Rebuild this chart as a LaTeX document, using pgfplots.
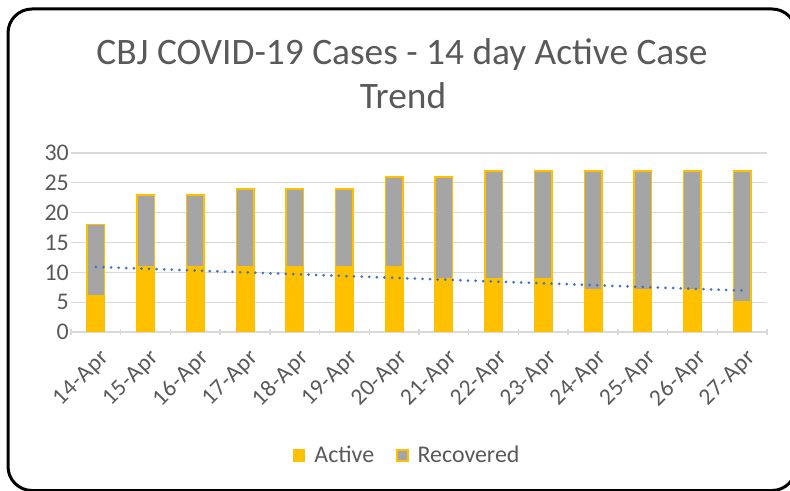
\documentclass[border=0pt]{standalone}
\usepackage{pgfplots}
\pgfplotsset{compat=1.18}
\usepackage{fontspec}
\setmainfont{Carlito}
\definecolor{act}{HTML}{FFC000}
\definecolor{rec}{HTML}{A5A5A5}
\definecolor{grd}{HTML}{D9D9D9}
\definecolor{txt}{HTML}{595959}
\definecolor{trend}{HTML}{4472C4}
\begin{document}
\begin{tikzpicture}
\useasboundingbox (0,0) rectangle (790bp,491bp);
\begin{scope}
\clip (0,0) rectangle (790bp,491bp);
\draw[line width=3bp, rounded corners=24bp] (8bp,0.5bp) rectangle (796bp,482bp);
\end{scope}
\node[anchor=base, text=txt, font=\fontsize{37.5}{44}\selectfont] at (402bp,426bp) {CBJ COVID-19 Cases - 14 day Active Case};
\node[anchor=base, text=txt, font=\fontsize{37.5}{44}\selectfont] at (403bp,382bp) {Trend};
\begin{axis}[
  at={(71bp,159bp)}, anchor=south west,
  scale only axis, width=696bp, height=179bp,
  xmin=-0.5, xmax=13.5, ymin=0, ymax=30,
  ybar stacked, bar width=17.5bp,
  xtick={0,...,13},
  xticklabels={14-Apr,15-Apr,16-Apr,17-Apr,18-Apr,19-Apr,20-Apr,21-Apr,22-Apr,23-Apr,24-Apr,25-Apr,26-Apr,27-Apr},
  minor xtick={-0.5,0.5,...,13.5},
  ytick={0,5,...,30},
  major tick length=0pt, minor tick length=6bp, tick align=outside,
  minor tick style={grd, line width=1.3bp},
  ymajorgrids, grid style={grd, line width=1.3bp},
  axis lines=left, axis line style={-},
  y axis line style={draw=none},
  x axis line style={grd, line width=1.3bp},
  /pgf/number format/assume math mode=true,
  xticklabel style={yshift=-14bp, xshift=3bp, rotate=45, anchor=north east, font=\fontsize{23.5}{28}\selectfont\addfontfeature{LetterSpace=3}, text=txt, inner sep=1bp},
  yticklabel style={font=\fontsize{24}{28}\selectfont, text=txt, inner sep=2bp},
  legend style={at={(0.483,-0.687)}, anchor=center, draw=none, legend columns=2,
    /tikz/every odd column/.append style={column sep=7bp},
    /tikz/every even column/.append style={column sep=20bp},
    font=\fontsize{24}{28}\selectfont, text=txt},
  legend image code/.code={\draw[#1, line width=1.5bp] (0bp,-6bp) rectangle (11bp,5bp);},
]
\addplot[fill=act, draw=act, line width=1.5bp] coordinates {
 (0,6) (1,11) (2,11) (3,11) (4,11) (5,11) (6,11) (7,9) (8,9) (9,9) (10,7) (11,7) (12,7) (13,5)};
\addlegendentry{Active}
\addplot[fill=rec, draw=act, line width=1.5bp] coordinates {
 (0,12) (1,12) (2,12) (3,13) (4,13) (5,13) (6,15) (7,17) (8,18) (9,18) (10,20) (11,20) (12,20) (13,22)};
\addlegendentry{Recovered}
\end{axis}
\begin{axis}[
  at={(71bp,159bp)}, anchor=south west,
  scale only axis, width=696bp, height=179bp,
  xmin=-0.5, xmax=13.5, ymin=0, ymax=30,
  hide axis,
]
\addplot[trend, line width=3bp, line cap=round, dash pattern=on 0pt off 7.6bp] coordinates {(0,10.91) (13,6.94)};
\end{axis}
\end{tikzpicture}
\end{document}
